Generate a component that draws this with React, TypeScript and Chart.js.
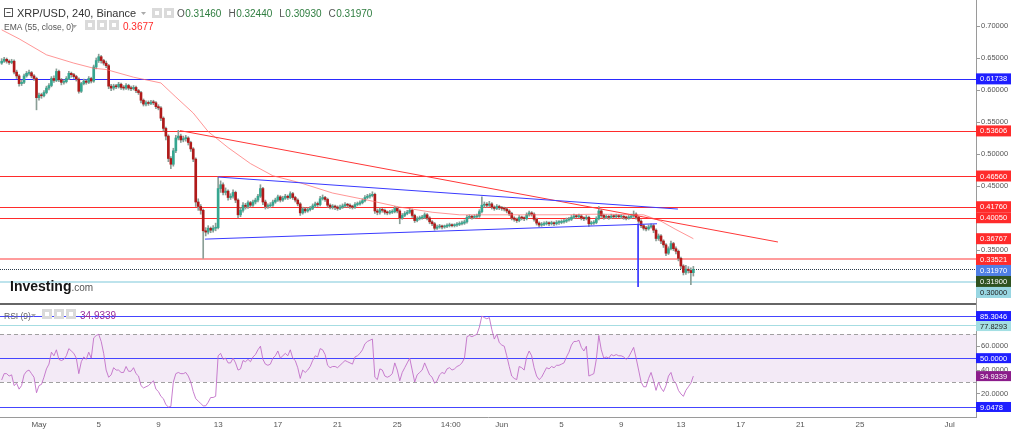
import React, { useEffect, useRef } from 'react';
import { Chart, registerables } from 'chart.js';

Chart.register(...registerables);

const FONT = '"Liberation Sans", Arial, sans-serif';

// ---------------- data ----------------
const titleText = 'XRP/USD, 240, Binance';
const ohlcKeys = ['O', 'H', 'L', 'C'];
const ohlcVals = ['0.31460', '0.32440', '0.30930', '0.31970'];
const emaTitle = 'EMA (55, close, 0)';
const emaHeaderVal = '0.3677';
const rsiTitle = 'RSI (9)';

const firstOpen = 0.642;
const closes = [
  0.645, 0.648, 0.645, 0.643, 0.645, 0.628, 0.622, 0.610, 0.612, 0.622,
  0.626, 0.627, 0.622, 0.618, 0.588, 0.592, 0.591, 0.596, 0.603, 0.607,
  0.618, 0.615, 0.629, 0.616, 0.612, 0.613, 0.618, 0.626, 0.624, 0.621,
  0.617, 0.598, 0.610, 0.614, 0.612, 0.618, 0.614, 0.636, 0.646, 0.652,
  0.646, 0.642, 0.638, 0.606, 0.603, 0.606, 0.605, 0.609, 0.604, 0.603,
  0.607, 0.603, 0.602, 0.604, 0.599, 0.596, 0.584, 0.578, 0.580, 0.579,
  0.581, 0.580, 0.574, 0.572, 0.556, 0.540, 0.528, 0.493, 0.484, 0.505,
  0.525, 0.528, 0.522, 0.524, 0.525, 0.518, 0.508, 0.492, 0.425, 0.418,
  0.412, 0.380, 0.378, 0.384, 0.381, 0.384, 0.385, 0.446, 0.452, 0.440,
  0.442, 0.432, 0.434, 0.440, 0.428, 0.405, 0.412, 0.420, 0.418, 0.424,
  0.420, 0.425, 0.428, 0.434, 0.446, 0.425, 0.418, 0.419, 0.420, 0.425,
  0.428, 0.433, 0.428, 0.431, 0.434, 0.432, 0.438, 0.432, 0.428, 0.422,
  0.408, 0.414, 0.411, 0.413, 0.415, 0.419, 0.422, 0.421, 0.430, 0.432,
  0.429, 0.420, 0.417, 0.418, 0.417, 0.415, 0.417, 0.419, 0.421, 0.420,
  0.418, 0.417, 0.421, 0.422, 0.424, 0.427, 0.432, 0.434, 0.435, 0.437,
  0.411, 0.409, 0.413, 0.412, 0.409, 0.408, 0.409, 0.410, 0.415, 0.411,
  0.400, 0.404, 0.407, 0.409, 0.412, 0.404, 0.396, 0.399, 0.400, 0.401,
  0.405, 0.400, 0.394, 0.391, 0.384, 0.386, 0.387, 0.386, 0.387, 0.388,
  0.389, 0.388, 0.389, 0.390, 0.391, 0.392, 0.394, 0.401, 0.402, 0.401,
  0.402, 0.403, 0.410, 0.420, 0.421, 0.420, 0.422, 0.417, 0.415, 0.418,
  0.416, 0.415, 0.414, 0.411, 0.407, 0.400, 0.398, 0.396, 0.401, 0.400,
  0.399, 0.405, 0.408, 0.406, 0.398, 0.392, 0.389, 0.390, 0.391, 0.392,
  0.391, 0.392, 0.391, 0.393, 0.393, 0.394, 0.395, 0.397, 0.398, 0.401,
  0.403, 0.402, 0.403, 0.400, 0.399, 0.401, 0.391, 0.392, 0.393, 0.399,
  0.411, 0.404, 0.401, 0.402, 0.401, 0.403, 0.402, 0.403, 0.402, 0.402,
  0.401, 0.400, 0.401, 0.403, 0.406, 0.401, 0.395, 0.388, 0.384, 0.383,
  0.386, 0.388, 0.381, 0.368, 0.372, 0.364, 0.358, 0.345, 0.352, 0.360,
  0.352, 0.348, 0.337, 0.325, 0.315, 0.320, 0.318, 0.3146, 0.3197,
];
const highs = [
  0.649, 0.651, 0.650, 0.647, 0.648, 0.647, 0.631, 0.624, 0.615, 0.625,
  0.629, 0.631, 0.629, 0.624, 0.620, 0.595, 0.595, 0.599, 0.606, 0.610,
  0.621, 0.622, 0.633, 0.631, 0.618, 0.616, 0.621, 0.629, 0.628, 0.626,
  0.623, 0.619, 0.612, 0.617, 0.616, 0.621, 0.620, 0.639, 0.650, 0.656,
  0.654, 0.648, 0.645, 0.640, 0.609, 0.609, 0.609, 0.612, 0.611, 0.607,
  0.610, 0.609, 0.606, 0.607, 0.606, 0.601, 0.598, 0.586, 0.583, 0.583,
  0.584, 0.584, 0.582, 0.577, 0.574, 0.558, 0.542, 0.530, 0.496, 0.509,
  0.529, 0.537, 0.531, 0.528, 0.529, 0.527, 0.520, 0.510, 0.494, 0.430,
  0.421, 0.414, 0.385, 0.388, 0.386, 0.388, 0.392, 0.464, 0.458, 0.455,
  0.447, 0.444, 0.438, 0.444, 0.442, 0.430, 0.416, 0.424, 0.423, 0.427,
  0.426, 0.428, 0.431, 0.437, 0.452, 0.448, 0.428, 0.422, 0.424, 0.428,
  0.431, 0.436, 0.435, 0.434, 0.437, 0.436, 0.441, 0.440, 0.434, 0.430,
  0.424, 0.417, 0.416, 0.416, 0.418, 0.422, 0.425, 0.425, 0.434, 0.436,
  0.434, 0.431, 0.422, 0.421, 0.420, 0.419, 0.420, 0.422, 0.424, 0.423,
  0.422, 0.420, 0.424, 0.425, 0.427, 0.430, 0.435, 0.437, 0.438, 0.441,
  0.439, 0.414, 0.416, 0.415, 0.414, 0.411, 0.412, 0.413, 0.418, 0.417,
  0.413, 0.407, 0.410, 0.412, 0.415, 0.414, 0.406, 0.402, 0.403, 0.404,
  0.408, 0.407, 0.402, 0.396, 0.393, 0.389, 0.390, 0.389, 0.389, 0.391,
  0.392, 0.391, 0.391, 0.393, 0.394, 0.395, 0.397, 0.404, 0.405, 0.404,
  0.405, 0.406, 0.413, 0.433, 0.425, 0.424, 0.426, 0.424, 0.419, 0.421,
  0.420, 0.418, 0.417, 0.416, 0.413, 0.409, 0.402, 0.400, 0.404, 0.403,
  0.402, 0.408, 0.411, 0.410, 0.408, 0.400, 0.394, 0.393, 0.394, 0.395,
  0.394, 0.395, 0.394, 0.396, 0.396, 0.397, 0.398, 0.400, 0.401, 0.404,
  0.406, 0.405, 0.406, 0.405, 0.402, 0.404, 0.403, 0.395, 0.396, 0.402,
  0.418, 0.413, 0.406, 0.405, 0.404, 0.406, 0.405, 0.406, 0.405, 0.405,
  0.404, 0.403, 0.404, 0.406, 0.411, 0.408, 0.403, 0.397, 0.390, 0.387,
  0.389, 0.391, 0.390, 0.383, 0.375, 0.374, 0.366, 0.360, 0.355, 0.364,
  0.362, 0.355, 0.350, 0.339, 0.327, 0.326, 0.324, 0.322, 0.3244,
];
const lows = [
  0.640, 0.643, 0.642, 0.640, 0.641, 0.625, 0.618, 0.606, 0.607, 0.610,
  0.620, 0.623, 0.619, 0.615, 0.569, 0.584, 0.587, 0.589, 0.594, 0.600,
  0.605, 0.612, 0.613, 0.613, 0.608, 0.609, 0.611, 0.616, 0.620, 0.618,
  0.614, 0.595, 0.596, 0.608, 0.609, 0.610, 0.611, 0.612, 0.633, 0.643,
  0.642, 0.639, 0.635, 0.602, 0.599, 0.600, 0.602, 0.603, 0.601, 0.600,
  0.601, 0.600, 0.599, 0.600, 0.596, 0.593, 0.580, 0.575, 0.575, 0.576,
  0.577, 0.577, 0.571, 0.569, 0.552, 0.536, 0.522, 0.488, 0.477, 0.481,
  0.502, 0.522, 0.518, 0.519, 0.520, 0.514, 0.504, 0.488, 0.418, 0.412,
  0.406, 0.337, 0.372, 0.375, 0.377, 0.378, 0.380, 0.383, 0.440, 0.436,
  0.436, 0.428, 0.429, 0.431, 0.424, 0.400, 0.402, 0.409, 0.414, 0.415,
  0.417, 0.418, 0.422, 0.425, 0.432, 0.421, 0.414, 0.415, 0.416, 0.418,
  0.423, 0.426, 0.425, 0.426, 0.429, 0.429, 0.430, 0.429, 0.425, 0.419,
  0.404, 0.406, 0.408, 0.409, 0.411, 0.413, 0.417, 0.418, 0.419, 0.428,
  0.426, 0.417, 0.414, 0.414, 0.413, 0.412, 0.413, 0.415, 0.417, 0.417,
  0.415, 0.414, 0.415, 0.419, 0.420, 0.422, 0.425, 0.430, 0.431, 0.433,
  0.407, 0.405, 0.406, 0.409, 0.406, 0.405, 0.406, 0.407, 0.408, 0.408,
  0.391, 0.398, 0.402, 0.405, 0.407, 0.401, 0.393, 0.394, 0.397, 0.398,
  0.399, 0.397, 0.391, 0.388, 0.381, 0.382, 0.384, 0.383, 0.384, 0.385,
  0.386, 0.386, 0.386, 0.387, 0.388, 0.389, 0.390, 0.392, 0.399, 0.398,
  0.399, 0.400, 0.401, 0.408, 0.417, 0.417, 0.418, 0.414, 0.412, 0.413,
  0.413, 0.412, 0.411, 0.408, 0.404, 0.397, 0.395, 0.393, 0.394, 0.397,
  0.396, 0.397, 0.403, 0.403, 0.395, 0.389, 0.386, 0.387, 0.388, 0.389,
  0.388, 0.389, 0.388, 0.389, 0.390, 0.391, 0.392, 0.393, 0.395, 0.396,
  0.399, 0.400, 0.400, 0.397, 0.396, 0.397, 0.387, 0.389, 0.390, 0.391,
  0.397, 0.401, 0.398, 0.399, 0.398, 0.399, 0.400, 0.400, 0.400, 0.399,
  0.398, 0.397, 0.398, 0.399, 0.401, 0.398, 0.392, 0.385, 0.381, 0.380,
  0.381, 0.384, 0.377, 0.364, 0.365, 0.360, 0.354, 0.341, 0.343, 0.350,
  0.349, 0.344, 0.333, 0.321, 0.311, 0.312, 0.314, 0.296, 0.3093,
];
const rsiValues = [
  31.7, 37, 37, 35, 36, 27, 29, 24, 27, 36,
  39, 40, 37, 34, 21, 27, 28, 34, 41, 45,
  55, 52, 57, 49, 48, 49, 52, 58, 56, 54,
  50, 37, 47, 51, 49, 55, 50, 67, 69, 70,
  64, 54, 40, 34, 36, 42, 40, 40, 38, 38,
  43, 39, 39, 42, 37, 35, 27, 25, 26, 27,
  29, 31, 24, 22, 18, 16, 11, 9.05, 9.5, 30,
  37, 38, 37, 37, 38, 35, 30, 22, 16, 14,
  12, 10, 10, 13, 17, 17, 18, 52, 54, 49,
  50, 46, 46, 50, 46, 40, 41, 48, 47, 49,
  47, 51, 53, 57, 60, 49, 45, 44, 45, 50,
  52, 56, 50, 52, 54, 52, 57, 50, 48, 42,
  33, 40, 38, 40, 43, 48, 52, 51, 58, 57,
  53, 44, 42, 43, 43, 42, 44, 46, 48, 47,
  46, 45, 51, 52, 54, 57, 62, 64, 65, 66,
  34, 32, 41, 40, 35, 34, 35, 37, 46, 40,
  31, 38, 42, 46, 50, 40, 30, 36, 38, 40,
  46, 41, 36, 34, 29, 31, 36, 38, 37, 41,
  42, 40, 41, 43, 44, 46, 50, 68, 69, 68,
  69, 70, 76, 85.3, 84, 83, 84, 74, 66, 70,
  63, 61, 60, 52, 43, 35, 33, 32, 43, 42,
  40, 51, 56, 52, 42, 35, 32, 34, 38, 42,
  41, 43, 42, 44, 44, 45, 46, 51, 55, 61,
  64, 64, 65, 59, 56, 60, 35, 36, 37, 49,
  69, 57, 50, 51, 50, 53, 52, 53, 52, 52,
  51, 49, 51, 55, 59, 50, 40, 30, 26, 26,
  33, 38, 31, 23, 30, 25, 22, 27, 35, 38,
  31, 29, 23, 20, 18, 23, 26, 29, 34.93,
];
const emaIdx = [0, 7, 18, 29, 37, 42, 53, 64, 70, 77, 83, 91, 100, 109, 120, 133, 147, 160, 173, 184, 200, 224, 240, 258, 265, 271, 278];
const emaVals = [0.694, 0.680, 0.655, 0.642, 0.634, 0.632, 0.620, 0.611, 0.589, 0.564, 0.535, 0.510, 0.485, 0.466, 0.455, 0.439, 0.428, 0.417, 0.409, 0.405, 0.405, 0.405, 0.406, 0.405, 0.395, 0.382, 0.3677];

const redTrendIdx = [71.7, 312];
const redTrendVals = [0.5365, 0.3625];
const blueTopIdx = [87, 271.8];
const blueTopVals = [0.464, 0.414];
const blueBotIdx = [81.7, 263.4];
const blueBotVals = [0.367, 0.391];
const blueVertIdx = [255.8, 255.8];
const blueVertVals = [0.391, 0.2922];

const xTickIdx = [15, 39, 63, 87, 111, 135, 159, 180.5, 201, 225, 249, 273, 297, 321, 345, 381];
const xTickLabels = ['May', '5', '9', '13', '17', '21', '25', '14:00', 'Jun', '5', '9', '13', '17', '21', '25', 'Jul'];
const priceTicks = [0.35, 0.45, 0.5, 0.55, 0.6, 0.65, 0.7];
const rsiTicks = [20, 40, 60];

const levelVals = [0.61738, 0.53606, 0.4656, 0.4176, 0.4005, 0.33521, 0.3197, 0.3];
const emaLast = 0.36767;
const bidVal = 0.319;
const rsiLevelVals = [85.3046, 77.8293, 50, 9.0478];
const rsiBandVals = [70, 30];
const rsiLast = 34.9339;

// ---------------- styles ----------------
const UP = '#36a690';
const DOWN = '#b01a1a';
const WICK = '#8a9e96';
const BLUE = '#2a2aff';
const RED = '#ff2b2b';
const levelColors = [BLUE, RED, RED, RED, RED, '#ff9c9c', '#2b3a4a', '#bde3ec'];
const levelWidths = [1, 1, 1, 1, 1, 2, 1, 2];
const levelDash: number[][] = [[], [], [], [], [], [], [1, 1], []];
const rsiLevelColors = ['#4545ff', '#a6dde2', '#4545ff', '#4545ff'];

function hLine(ctx: CanvasRenderingContext2D, x1: number, x2: number, p: number, color: string, w: number, dash: number[] = []) {
  const y = w % 2 === 1 ? Math.round(p) + 0.5 : Math.round(p);
  ctx.save();
  ctx.strokeStyle = color;
  ctx.lineWidth = w;
  ctx.setLineDash(dash);
  ctx.beginPath();
  ctx.moveTo(x1, y);
  ctx.lineTo(x2, y);
  ctx.stroke();
  ctx.restore();
}

type Tag = { v: number; bg: string; fg: string };

function drawTags(ctx: CanvasRenderingContext2D, tags: Tag[], scale: any, x: number, digits: number, h: number) {
  const items = tags.map((t) => ({ ...t, c: scale.getPixelForValue(t.v) })).sort((a, b) => a.c - b.c);
  let prevBottom = -Infinity;
  ctx.save();
  ctx.font = `7.5px ${FONT}`;
  ctx.textBaseline = 'middle';
  ctx.textAlign = 'left';
  for (const it of items) {
    const top = Math.max(it.c - h / 2, prevBottom);
    ctx.fillStyle = it.bg;
    ctx.fillRect(x, top, 35, h);
    ctx.fillStyle = it.fg;
    ctx.fillText(it.v.toFixed(digits), x + 4, top + h / 2 + 0.5);
    prevBottom = top + h;
  }
  ctx.restore();
}

function icon(ctx: CanvasRenderingContext2D, x: number, y: number) {
  ctx.fillStyle = '#dadada';
  ctx.fillRect(x, y, 10, 10);
  ctx.fillStyle = '#fff';
  ctx.fillRect(x + 3, y + 3, 4, 4);
}

function caret(ctx: CanvasRenderingContext2D, x: number, y: number) {
  ctx.fillStyle = '#aaa';
  ctx.beginPath();
  ctx.moveTo(x, y);
  ctx.lineTo(x + 5, y);
  ctx.lineTo(x + 2.5, y + 3);
  ctx.closePath();
  ctx.fill();
}

function drawHeader(ctx: CanvasRenderingContext2D) {
  ctx.save();
  ctx.textAlign = 'left';
  ctx.textBaseline = 'alphabetic';
  // collapse icon
  ctx.strokeStyle = '#555';
  ctx.lineWidth = 1;
  ctx.strokeRect(4.5, 8.5, 8, 8);
  ctx.beginPath();
  ctx.moveTo(6.5, 12.5);
  ctx.lineTo(10.5, 12.5);
  ctx.stroke();
  ctx.font = `11px ${FONT}`;
  ctx.fillStyle = '#333';
  ctx.fillText(titleText, 17, 17);
  caret(ctx, 141, 12);
  icon(ctx, 152, 8);
  icon(ctx, 164, 8);
  ctx.font = `10px ${FONT}`;
  let x = 177;
  ohlcKeys.forEach((k, i) => {
    ctx.fillStyle = '#555';
    ctx.fillText(k, x, 17);
    x += ctx.measureText(k).width + 0.5;
    ctx.fillStyle = '#2e7d3f';
    ctx.fillText(ohlcVals[i], x, 17);
    x += ctx.measureText(ohlcVals[i]).width + 7;
  });
  // EMA legend
  ctx.font = `8.5px ${FONT}`;
  ctx.fillStyle = '#555';
  ctx.fillText(emaTitle, 4, 29.5);
  caret(ctx, 72, 25);
  icon(ctx, 85, 20);
  icon(ctx, 97, 20);
  icon(ctx, 109, 20);
  ctx.font = `10px ${FONT}`;
  ctx.fillStyle = '#ff2b2b';
  ctx.fillText(emaHeaderVal, 123, 29.5);
  // RSI legend
  ctx.font = `8.5px ${FONT}`;
  ctx.fillStyle = '#666';
  ctx.fillText(rsiTitle, 4, 318.5);
  caret(ctx, 31, 314);
  icon(ctx, 42, 309);
  icon(ctx, 54, 309);
  icon(ctx, 66, 309);
  ctx.font = `10px ${FONT}`;
  ctx.fillStyle = '#9b2c9b';
  ctx.fillText(rsiLast.toFixed(4), 80, 318.5);
  // Investing.com logo
  ctx.font = `bold 14px ${FONT}`;
  ctx.fillStyle = '#151515';
  ctx.fillText('Investing', 10, 291);
  const w = ctx.measureText('Investing').width;
  ctx.font = `10px ${FONT}`;
  ctx.fillStyle = '#555';
  ctx.fillText('.com', 10 + w, 291);
  ctx.restore();
}

const overlayPlugin = {
  id: 'overlay',
  beforeDatasetsDraw(chart: any) {
    const { ctx, chartArea: a } = chart;
    const ys = chart.scales.y;
    const rs = chart.scales.yRsi;
    ctx.save();
    const y70 = rs.getPixelForValue(rsiBandVals[0]);
    const y30 = rs.getPixelForValue(rsiBandVals[1]);
    ctx.fillStyle = 'rgba(150,60,170,0.11)';
    ctx.fillRect(a.left, y70, a.right - a.left, y30 - y70);
    rsiBandVals.forEach((v) => hLine(ctx, a.left, a.right, rs.getPixelForValue(v), '#a0a0a0', 1, [4, 3]));
    rsiLevelVals.forEach((v, k) => hLine(ctx, a.left, a.right, rs.getPixelForValue(v), rsiLevelColors[k], 1));
    levelVals.forEach((v, k) => hLine(ctx, a.left, a.right, ys.getPixelForValue(v), levelColors[k], levelWidths[k], levelDash[k]));
    ctx.restore();
  },
  afterDraw(chart: any) {
    const { ctx, chartArea: a } = chart;
    const ys = chart.scales.y;
    const rs = chart.scales.yRsi;
    // panel separator
    ctx.save();
    ctx.fillStyle = '#666';
    ctx.fillRect(0, ys.bottom, a.right, 2);
    ctx.restore();
    const priceTags: Tag[] = [
      { v: levelVals[0], bg: '#1f1fff', fg: '#fff' },
      { v: levelVals[1], bg: RED, fg: '#fff' },
      { v: levelVals[2], bg: RED, fg: '#fff' },
      { v: levelVals[3], bg: RED, fg: '#fff' },
      { v: levelVals[4], bg: RED, fg: '#fff' },
      { v: emaLast, bg: RED, fg: '#fff' },
      { v: levelVals[5], bg: RED, fg: '#fff' },
      { v: levelVals[6], bg: '#4f7fe6', fg: '#fff' },
      { v: bidVal, bg: '#2e5220', fg: '#fff' },
      { v: levelVals[7], bg: '#98d6e2', fg: '#222' },
    ];
    drawTags(ctx, priceTags, ys, a.right, 5, 11);
    const rsiTags: Tag[] = [
      { v: rsiLevelVals[0], bg: '#1f1fff', fg: '#fff' },
      { v: rsiLevelVals[1], bg: '#a3dfe3', fg: '#222' },
      { v: rsiLevelVals[2], bg: '#1f1fff', fg: '#fff' },
      { v: rsiLast, bg: '#8b1c8b', fg: '#fff' },
      { v: rsiLevelVals[3], bg: '#1f1fff', fg: '#fff' },
    ];
    drawTags(ctx, rsiTags, rs, a.right, 4, 10);
    drawHeader(ctx);
  },
};

const lineDs = (idx: number[], vals: number[], color: string, axis: string, order: number) => ({
  type: 'line' as const,
  data: idx.map((x, i) => ({ x, y: vals[i] })),
  borderColor: color,
  borderWidth: 1,
  pointRadius: 0,
  tension: 0,
  yAxisID: axis,
  order,
});

export default function App() {
  const ref = useRef<HTMLCanvasElement>(null);
  useEffect(() => {
    document.body.style.margin = '0';
    if (!ref.current) return;
    const opens = closes.map((c, i) => (i === 0 ? firstOpen : closes[i - 1]));
    const wickData = closes.map((_, i) => ({ x: i, y: [lows[i], highs[i]] }));
    const bodyData = closes.map((c, i) => ({ x: i, y: [opens[i], c] }));
    const bodyColors = closes.map((c, i) => (c >= opens[i] ? UP : DOWN));
    const rsiData = rsiValues.map((v, i) => ({ x: i, y: v }));

    const zeroPad = (s: any) => {
      s.paddingTop = 0;
      s.paddingBottom = 0;
      s.paddingLeft = 0;
      s.paddingRight = 0;
    };

    const chart = new Chart(ref.current, {
      type: 'bar',
      data: {
        datasets: [
          { type: 'bar', data: wickData as any, backgroundColor: WICK, barThickness: 1, grouped: false, yAxisID: 'y', order: 10 } as any,
          { type: 'bar', data: bodyData as any, backgroundColor: bodyColors, barThickness: 2, minBarLength: 1, grouped: false, yAxisID: 'y', order: 9 } as any,
          lineDs(emaIdx, emaVals, 'rgba(255,105,105,0.7)', 'y', 8),
          lineDs(redTrendIdx, redTrendVals, '#ff3838', 'y', 7),
          lineDs(blueTopIdx, blueTopVals, '#3a3aff', 'y', 6),
          lineDs(blueBotIdx, blueBotVals, '#3a3aff', 'y', 5),
          lineDs(blueVertIdx, blueVertVals, '#3a3aff', 'y', 4),
          { type: 'line', data: rsiData, borderColor: 'rgba(190,105,198,0.85)', borderWidth: 1, pointRadius: 0, tension: 0, yAxisID: 'yRsi', order: 1 } as any,
        ],
      },
      options: {
        animation: false,
        responsive: false,
        maintainAspectRatio: false,
        devicePixelRatio: 1,
        layout: { padding: 0 },
        events: [],
        plugins: { legend: { display: false }, tooltip: { enabled: false } },
        scales: {
          x: {
            type: 'linear',
            min: -0.67,
            max: 391.6,
            offset: false,
            grid: { display: false, drawTicks: false },
            border: { display: true, color: '#9a9a9a', width: 1 },
            ticks: {
              autoSkip: false,
              maxRotation: 0,
              padding: 3,
              color: '#555',
              font: { size: 8, family: FONT },
              callback: (_v: any, i: number) => xTickLabels[i],
            },
            afterBuildTicks: (s: any) => {
              s.ticks = xTickIdx.map((v) => ({ value: v }));
            },
            afterFit: (s: any) => {
              s.height = 14;
              zeroPad(s);
            },
          },
          y: {
            type: 'linear',
            position: 'right',
            axis: 'y',
            stack: 'panes',
            stackWeight: 303,
            min: 0.267188,
            max: 0.740625,
            offset: false,
            grid: { display: true, drawOnChartArea: false, drawTicks: true, tickLength: 4, color: '#9a9a9a' },
            border: { display: true, color: '#9a9a9a', width: 1 },
            ticks: {
              autoSkip: false,
              padding: 1,
              color: '#555',
              font: { size: 7.5, family: FONT },
              callback: (v: any) => Number(v).toFixed(5),
            },
            afterBuildTicks: (s: any) => {
              s.ticks = priceTicks.map((v) => ({ value: v }));
            },
            afterFit: (s: any) => {
              s.width = 48;
              zeroPad(s);
            },
          },
          yRsi: {
            type: 'linear',
            position: 'right',
            axis: 'y',
            stack: 'panes',
            stackWeight: 114,
            min: 0.65,
            max: 96.25,
            offset: false,
            grid: { display: true, drawOnChartArea: false, drawTicks: true, tickLength: 4, color: '#9a9a9a' },
            border: { display: true, color: '#9a9a9a', width: 1 },
            ticks: {
              autoSkip: false,
              padding: 1,
              color: '#555',
              font: { size: 7.5, family: FONT },
              callback: (v: any) => Number(v).toFixed(4),
            },
            afterBuildTicks: (s: any) => {
              s.ticks = rsiTicks.map((v) => ({ value: v }));
            },
            afterFit: (s: any) => {
              s.width = 48;
              zeroPad(s);
            },
          },
        } as any,
      },
      plugins: [overlayPlugin as any],
    });
    return () => chart.destroy();
  }, []);

  return (
    <div style={{ width: 1024, height: 431, background: '#fff' }}>
      <canvas ref={ref} width={1024} height={431} style={{ display: 'block', width: 1024, height: 431 }} />
    </div>
  );
}
